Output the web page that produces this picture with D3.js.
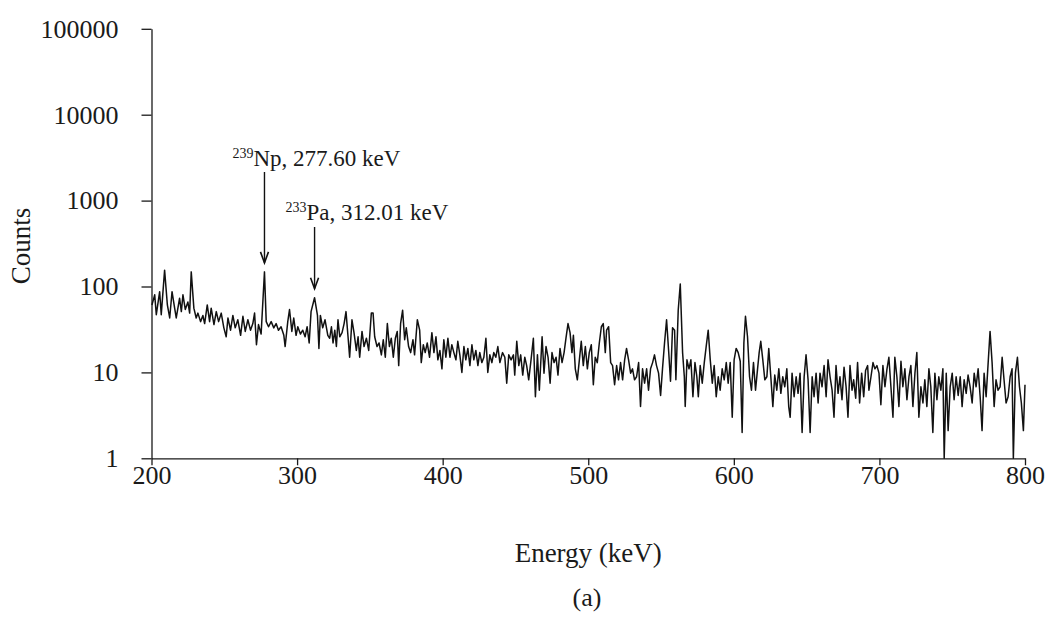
<!DOCTYPE html>
<html>
<head>
<meta charset="utf-8">
<script src="https://cdn.jsdelivr.net/npm/d3@7"></script>
<style>
  html, body { margin: 0; padding: 0; background: #fff; }
  svg { display: block; }
  text { font-family: "Liberation Serif", "DejaVu Serif", serif; fill: #1a1a1a; }
</style>
</head>
<body>
<svg id="chart" width="1050" height="624"></svg>
<script>
// Gamma-ray spectrum, 200–800 keV
const energy = [
  200.3,202.2,203.3,205.6,206.7,209.0,210.9,212.5,214.1,215.9,217.0,219.3,220.5,221.6,223.2,225.0,226.2,227.3,229.1,230.7,
  231.9,233.7,235.3,236.5,238.3,239.9,241.0,242.9,244.5,246.1,247.9,249.7,251.3,252.5,254.3,255.9,257.5,259.3,261.2,262.8,
  264.4,266.2,268.0,269.6,270.8,272.1,273.5,275.3,277.6,278.8,280.4,282.2,284.0,285.6,287.2,289.0,290.9,291.8,293.6,294.8,
  296.4,297.7,299.3,300.5,302.3,303.9,305.5,306.9,308.3,309.6,312.0,314.0,315.0,316.0,317.6,319.2,321.1,
  322.4,323.6,324.7,325.9,327.0,328.1,329.3,330.9,332.3,333.6,335.0,336.1,337.7,339.1,340.7,341.9,343.0,344.6,346.0,347.6,
  349.2,351.0,352.2,353.3,354.9,356.3,357.9,359.2,360.6,362.0,363.4,364.7,366.1,367.5,368.8,369.8,371.1,372.5,373.9,375.0,
  376.6,378.0,379.6,380.7,382.6,384.2,385.3,386.7,388.0,389.4,391.0,392.6,394.0,395.4,396.7,398.1,399.5,400.8,402.2,403.6,
  405.0,406.3,407.7,409.1,410.4,411.8,413.2,414.6,415.9,417.3,418.7,420.1,421.4,422.8,424.2,425.5,426.9,428.3,429.7,431.0,
  432.4,433.8,435.1,436.5,437.9,439.3,441.1,
  442.7,444.0,445.4,447.0,448.6,449.5,450.9,452.3,453.6,455.0,456.4,457.7,459.1,460.7,462.3,463.7,465.1,466.4,468.3,469.6,
  471.0,472.4,473.8,475.1,476.5,477.9,479.2,480.6,482.0,483.4,484.7,486.1,487.5,488.8,489.8,491.1,492.5,493.9,495.2,496.6,
  498.0,499.4,500.7,502.1,503.5,504.8,506.2,507.6,509.0,510.3,511.7,512.6,514.0,515.4,516.7,518.1,519.5,520.8,522.2,523.6,
  525.0,526.3,527.7,529.1,530.4,531.8,533.2,534.6,535.9,537.3,538.7,540.1,541.4,542.8,544.2,545.5,546.9,548.3,549.7,551.0,
  552.4,553.8,555.2,556.5,557.9,559.3,560.2,561.8,563.2,
  564.8,566.0,566.6,567.8,569.2,570.5,571.9,573.3,574.6,575.6,576.9,578.3,579.7,581.0,582.4,583.8,585.2,586.5,587.9,589.3,
  590.6,592.0,593.4,594.8,596.1,597.5,598.9,600.2,601.6,603.0,604.4,605.7,606.9,608.0,609.4,610.8,612.1,613.5,614.9,616.3,
  617.4,618.5,619.9,621.3,622.7,624.0,625.4,626.8,628.1,629.5,630.9,632.3,633.6,635.0,636.4,637.7,638.7,640.0,641.4,642.8,
  644.1,645.5,646.9,648.3,649.6,651.0,652.4,653.8,655.1,656.5,657.9,659.2,660.6,662.0,663.4,664.7,666.1,667.5,668.8,670.2,
  671.6,672.9,674.3,675.7,677.1,678.4,679.8,681.2,
  682.3,683.7,685.0,686.4,687.8,689.2,690.5,691.9,692.8,694.2,695.6,696.9,698.3,699.7,701.0,702.4,703.8,705.2,706.5,707.9,
  709.3,710.6,712.0,713.4,714.8,716.1,717.5,718.9,720.3,721.6,723.0,724.4,725.7,727.1,728.5,729.9,731.2,732.6,734.0,735.3,
  736.7,738.1,739.5,740.8,742.2,743.6,744.5,745.9,747.2,748.6,750.0,751.3,752.7,754.1,755.5,756.8,758.2,759.6,760.9,762.3,
  763.7,765.1,766.4,767.8,769.2,770.5,771.9,773.3,774.7,776.0,777.4,778.8,780.1,781.5,782.9,784.3,785.6,787.0,788.4,789.8,
  791.1,792.0,793.4,794.8,796.2,797.5,798.9,800.0
];
const counts = [
  61,80,47,87,47,155,61,43,87,56,43,73,51,80,54,66,49,148,56,43,
  49,39,46,37,61,39,56,36,51,39,49,33,26,43,31,46,33,41,27,45,
  30,41,31,37,49,21,36,28,148,39,34,39,33,37,31,34,27,20,39,54,
  30,43,27,34,28,31,26,34,22,51,74,46,19,46,33,41,27,
  25,34,22,31,20,41,26,29,37,51,26,15,41,29,18,26,15,30,20,25,
  18,49,49,26,20,22,16,24,15,37,20,25,15,25,30,12,37,53,24,33,
  20,17,24,16,41,31,13,21,17,22,15,29,17,26,14,18,11,24,15,25,
  15,21,17,14,23,16,10,20,14,19,12,21,14,18,12,17,13,15,25,10,
  16,13,17,15,20,13,17,
  15,7.5,16,14,16,9.3,23,12,16,9.3,15,12,8.2,14,25,5.2,16,6.2,26,9.8,
  20,15,7.5,17,13,15,9.3,19,13,17,25,37,29,17,27,11,8.2,14,23,12,
  20,11,17,21,7.2,15,13,22,34,37,17,31,34,13,12,7.2,12,8.2,13,8.2,
  14,19,14,9.8,11,8.2,8.9,13,4.0,11,7.5,11,6.2,11,13,16,12,9.8,5.4,11,
  22,41,18,7.9,33,31,8.2,53,107,
  17,8.9,4.0,14,11,14,5.2,13,8.9,5.2,12,7.5,13,20,31,14,7.5,12,5.2,8.9,
  6.2,11,8.2,13,7.5,13,3.0,14,19,17,13.5,2.0,22,45,26,8.9,6.2,13,6.2,11,
  17,23,14,8.2,8.9,19,8.9,4.0,9.3,6.2,11,5.7,8.9,6.8,11,4.0,3.0,9.8,5.2,8.9,
  5.7,9.8,2.0,8.9,16,8.2,2.0,8.9,5.2,9.8,4.4,9.8,6.8,12,5.2,14,8.9,6.2,3.0,12,
  5.7,8.9,4.8,11.5,6.8,3.0,12,6.2,
  8.2,5.0,13,4.4,9.8,5.2,10.5,12,6.2,8.9,13,11,12,9.8,4.2,12,6.8,11,15,6.8,
  3.0,15,8.9,4.0,13.5,6.8,11,4.8,8.9,12,4.0,9.8,17,3.0,6.8,4.4,8.2,4.0,11,6.8,
  2.0,9.8,4.8,8.9,6.2,11,1.0,9.8,2.1,6.8,9.8,4.8,8.9,5.4,8.9,4.0,8.2,5.7,9.3,6.8,
  4.4,9.8,6.8,11,5.2,2.1,9.8,5.2,13,30,13,4.0,8.2,6.2,6.8,15,8.2,4.4,5.2,8.9,
  11,1.0,9.8,15,6.8,4.4,2.1,7.2
];

// Axis ticks
const xTicks = [200, 300, 400, 500, 600, 700, 800];
const yTicks = [1, 10, 100, 1000, 10000, 100000];

// Peak identifications
const peakIsotopes = ["239", "233"];
const peakElements = ["Np", "Pa"];
const peakEnergies = [277.60, 312.01];
const peakCounts = [148, 74];

const svg = d3.select("#chart");
svg.append("rect").attr("width", 1050).attr("height", 624).attr("fill", "#fff");

const x = d3.scaleLinear().domain([200, 800]).range([151.5, 1025]);
const y = d3.scaleLog().domain([1, 100000]).range([458.3, 28.8]);

const tickFont = 26;
const titleFont = 27;

// Y axis
const yAxis = svg.append("g")
  .attr("transform", "translate(151.5,0)")
  .call(d3.axisLeft(y).tickValues(yTicks).tickFormat(d3.format("d"))
    .tickSize(10).tickSizeOuter(0).tickPadding(23));
// X axis
const xAxis = svg.append("g")
  .attr("transform", "translate(0,458.3)")
  .call(d3.axisBottom(x).tickValues(xTicks).tickFormat(d3.format("d"))
    .tickSize(7).tickSizeOuter(0).tickPadding(0));

[yAxis, xAxis].forEach(g => {
  g.selectAll("path.domain").attr("stroke", "#1a1a1a").attr("stroke-width", 1.3);
  g.selectAll(".tick line").attr("stroke", "#1a1a1a").attr("stroke-width", 1.3);
  g.selectAll(".tick text")
    .attr("fill", "#1a1a1a")
    .style("font-family", '"Liberation Serif", serif')
    .style("font-size", tickFont + "px");
});

// Spectrum trace
const pts = energy.map((e, i) => [e, counts[i]]);
svg.append("path")
  .datum(pts)
  .attr("fill", "none")
  .attr("stroke", "#111")
  .attr("stroke-width", 1.5)
  .attr("stroke-linejoin", "round")
  .attr("d", d3.line().x(d => x(d[0])).y(d => y(d[1])));

// Axis titles
svg.append("text")
  .attr("x", (151.5 + 1025) / 2).attr("y", 562)
  .attr("text-anchor", "middle")
  .style("font-size", titleFont + "px")
  .text("Energy (keV)");

svg.append("text")
  .attr("transform", "translate(30,246) rotate(-90)")
  .attr("text-anchor", "middle")
  .style("font-size", titleFont + "px")
  .text("Counts");

svg.append("text")
  .attr("x", 587).attr("y", 606)
  .attr("text-anchor", "middle")
  .style("font-size", tickFont + "px")
  .text("(a)");

// Peak annotations with arrows
const labelBaselines = [166, 220];
const arrowTops = [172, 227];
const textOffsets = [-32, -29];
const fmt = d3.format(".2f");
peakEnergies.forEach((e, i) => {
  const ax = x(e);
  const tipY = y(peakCounts[i]) - 9;
  const t = svg.append("text")
    .attr("x", ax + textOffsets[i]).attr("y", labelBaselines[i])
    .style("font-size", "23px");
  t.append("tspan").attr("dy", -8).style("font-size", "14px").text(peakIsotopes[i]);
  t.append("tspan").attr("dy", 8).text(peakElements[i] + ", " + fmt(e) + " keV");

  svg.append("line")
    .attr("x1", ax).attr("x2", ax)
    .attr("y1", arrowTops[i]).attr("y2", tipY)
    .attr("stroke", "#111").attr("stroke-width", 1.4);
  svg.append("path")
    .attr("d", `M${ax - 4},${tipY - 11} L${ax},${tipY} L${ax + 4},${tipY - 11}`)
    .attr("fill", "none").attr("stroke", "#111").attr("stroke-width", 1.6);
});
</script>
</body>
</html>
